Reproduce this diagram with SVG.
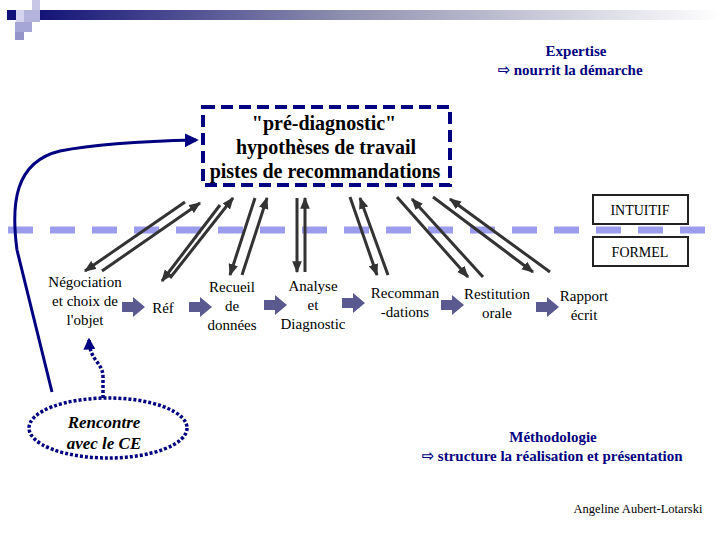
<svg xmlns="http://www.w3.org/2000/svg" xmlns:xlink="http://www.w3.org/1999/xlink" width="720" height="540" viewBox="0 0 720 540" font-family="Liberation Serif, serif">
<defs>
<linearGradient id="bar" x1="0" y1="0" x2="1" y2="0">
<stop offset="0" stop-color="#141478"/>
<stop offset="0.45" stop-color="#9090b0"/>
<stop offset="1" stop-color="#ffffff"/>
</linearGradient>
<marker id="ga" viewBox="0 0 10 8" refX="9" refY="4" markerWidth="12" markerHeight="10" markerUnits="userSpaceOnUse" orient="auto">
<path d="M0,0 L10,4 L0,8 Z" fill="#333333"/>
</marker>
<marker id="na" viewBox="0 0 10 10" refX="8" refY="5" markerWidth="14" markerHeight="14" markerUnits="userSpaceOnUse" orient="auto">
<path d="M0,0 L10,5 L0,10 Z" fill="#000080"/>
</marker>
<marker id="nd" viewBox="0 0 10 10" refX="8" refY="5" markerWidth="12" markerHeight="12" markerUnits="userSpaceOnUse" orient="auto">
<path d="M0,0 L10,5 L0,10 Z" fill="#000080"/>
</marker>
<path id="blk" d="M0,-5 L11,-5 L11,-10 L23,0 L11,10 L11,5 L0,5 Z" fill="#5a5a90"/>
<style>
.g{stroke:#333333;stroke-width:3;fill:none;marker-end:url(#ga)}
.box{fill:#fff;stroke:#222;stroke-width:2}
</style>
</defs>
<rect width="720" height="540" fill="#ffffff"/>
<g id="decor">
<rect x="40" y="10" width="680" height="10" fill="url(#bar)"/>
<rect x="32" y="0" width="8" height="10" fill="#c8c8e6"/>
<rect x="16" y="10" width="8" height="12" fill="#d4d4ee"/>
<rect x="24" y="10" width="16" height="12" fill="#b4b4dc"/>
<rect x="15" y="22" width="17" height="10" fill="#a6a6d6"/>
<rect x="15" y="32" width="9" height="8" fill="#9494c8"/>
<rect x="7" y="10" width="9" height="10" fill="#10107a"/>
</g>
<g id="separator">
<line x1="8" y1="230" x2="714" y2="230" stroke="#9c9cec" stroke-width="7" stroke-dasharray="25 17"/>
</g>
<g id="expertise" fill="#000080" text-anchor="middle">
<text x="576" y="56" font-family="Liberation Serif, serif" font-size="15" font-weight="bold">Expertise</text>
<text x="570" y="75" font-family="Liberation Serif, serif" font-size="15" font-weight="bold"><tspan font-family="DejaVu Sans, sans-serif">⇨</tspan> nourrit la démarche</text>
</g>
<g id="prediag">
<rect x="203" y="107" width="247" height="78" fill="none" stroke="#000080" stroke-width="4" stroke-dasharray="12 6"/>
<text x="324" y="130" font-family="Liberation Serif, serif" font-size="20" font-weight="bold" text-anchor="middle" fill="#000">"pré-diagnostic"</text>
<text x="326" y="154" font-family="Liberation Serif, serif" font-size="20" font-weight="bold" text-anchor="middle" fill="#000">hypothèses de travail</text>
<text x="325" y="178" font-family="Liberation Serif, serif" font-size="20" font-weight="bold" text-anchor="middle" fill="#000">pistes de recommandations</text>
</g>
<g id="intuitif">
<rect class="box" x="593" y="195" width="95" height="29"/>
<text x="640" y="215" font-family="Liberation Serif, serif" font-size="14" text-anchor="middle" fill="#000">INTUITIF</text>
</g>
<g id="formel">
<rect class="box" x="593" y="237" width="95" height="29"/>
<text x="640" y="257" font-family="Liberation Serif, serif" font-size="14" text-anchor="middle" fill="#000">FORMEL</text>
</g>
<g id="connectors">
<path class="g" d="M185,202 L85,271"/>
<path class="g" d="M102,271 L200,203"/>
<path class="g" d="M220,205 L162,281"/>
<path class="g" d="M170,278 L233,198"/>
<path class="g" d="M255,198 L230,275"/>
<path class="g" d="M242,275 L267,198"/>
<path class="g" d="M297,198 L297,272"/>
<path class="g" d="M305,272 L305,198"/>
<path class="g" d="M350,197 L377,275"/>
<path class="g" d="M388,275 L360,198"/>
<path class="g" d="M397,197 L468,277"/>
<path class="g" d="M483,277 L412,199"/>
<path class="g" d="M433,197 L533,272"/>
<path class="g" d="M550,272 L450,199"/>
<path d="M52,392 L17,250 C11,205 14,162 60,151 C100,143 150,141 196,140" fill="none" stroke="#000080" stroke-width="3" marker-end="url(#na)"/>
<path d="M103,398 L103,377 C103,362 90,362 89,340" fill="none" stroke="#000080" stroke-width="3.5" stroke-dasharray="3 2" marker-end="url(#nd)"/>
<use xlink:href="#blk" x="122" y="307"/>
<use xlink:href="#blk" x="189" y="307"/>
<use xlink:href="#blk" x="264" y="305"/>
<use xlink:href="#blk" x="342" y="303"/>
<use xlink:href="#blk" x="441" y="305"/>
<use xlink:href="#blk" x="536" y="307"/>
</g>
<g id="steps" fill="#000" text-anchor="middle">
<g id="negociation">
<text x="85" y="287" font-family="Liberation Serif, serif" font-size="15">Négociation</text>
<text x="85" y="306" font-family="Liberation Serif, serif" font-size="15">et choix de</text>
<text x="85" y="325" font-family="Liberation Serif, serif" font-size="15">l'objet</text>
</g>
<g id="ref"><text x="163" y="313" font-family="Liberation Serif, serif" font-size="15">Réf</text></g>
<g id="recueil">
<text x="232" y="292" font-family="Liberation Serif, serif" font-size="15">Recueil</text>
<text x="232" y="311" font-family="Liberation Serif, serif" font-size="15">de</text>
<text x="232" y="330" font-family="Liberation Serif, serif" font-size="15">données</text>
</g>
<g id="analyse">
<text x="313" y="291" font-family="Liberation Serif, serif" font-size="15">Analyse</text>
<text x="313" y="310" font-family="Liberation Serif, serif" font-size="15">et</text>
<text x="313" y="329" font-family="Liberation Serif, serif" font-size="15">Diagnostic</text>
</g>
<g id="recommandations">
<text x="405" y="298" font-family="Liberation Serif, serif" font-size="15">Recomman</text>
<text x="405" y="317" font-family="Liberation Serif, serif" font-size="15">-dations</text>
</g>
<g id="restitution">
<text x="497" y="299" font-family="Liberation Serif, serif" font-size="15">Restitution</text>
<text x="497" y="318" font-family="Liberation Serif, serif" font-size="15">orale</text>
</g>
<g id="rapport">
<text x="584" y="301" font-family="Liberation Serif, serif" font-size="15">Rapport</text>
<text x="584" y="320" font-family="Liberation Serif, serif" font-size="15">écrit</text>
</g>
</g>
<g id="rencontre">
<ellipse cx="108" cy="428" rx="79" ry="30" fill="none" stroke="#000080" stroke-width="3.5" stroke-dasharray="3 2"/>
<text x="104" y="428" font-family="Liberation Serif, serif" font-size="17" font-weight="bold" font-style="italic" fill="#000" text-anchor="middle">Rencontre</text>
<text x="104" y="449" font-family="Liberation Serif, serif" font-size="17" font-weight="bold" font-style="italic" fill="#000" text-anchor="middle">avec le CE</text>
</g>
<g id="methodologie" fill="#000080" text-anchor="middle">
<text x="553" y="442" font-family="Liberation Serif, serif" font-size="15" font-weight="bold">Méthodologie</text>
<text x="552" y="461" font-family="Liberation Serif, serif" font-size="15" font-weight="bold"><tspan font-family="DejaVu Sans, sans-serif">⇨</tspan> structure la réalisation et présentation</text>
</g>
<g id="author">
<text x="638" y="513" font-family="Liberation Serif, serif" font-size="12.5" fill="#000" text-anchor="middle">Angeline Aubert-Lotarski</text>
</g>
</svg>
